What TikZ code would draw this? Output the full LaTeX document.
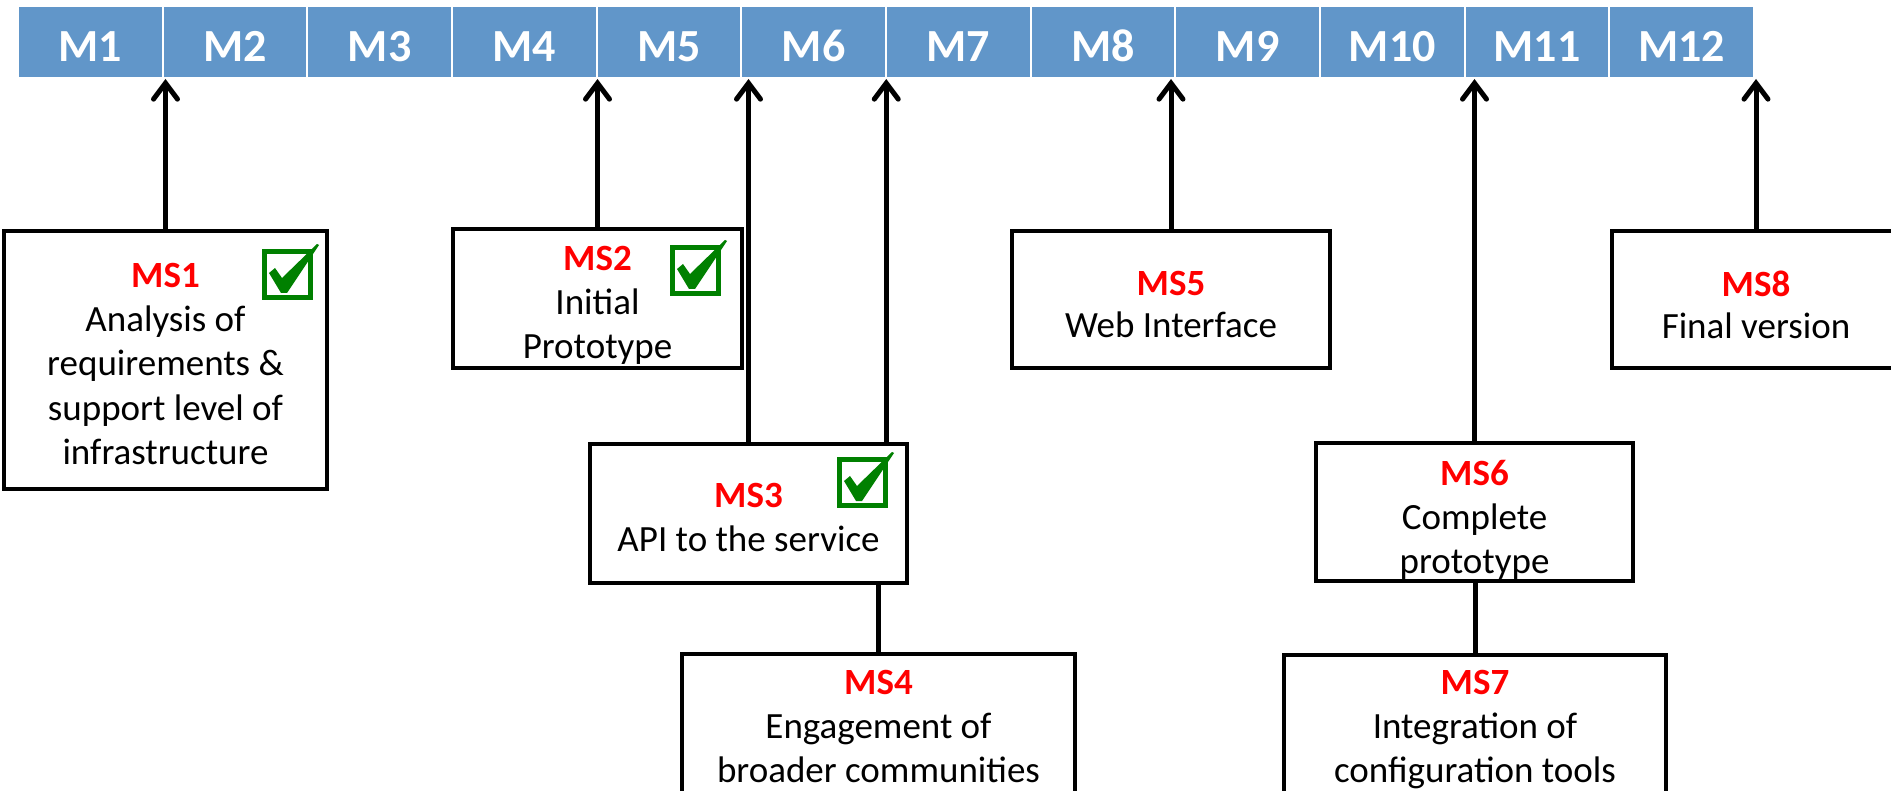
\documentclass[tikz,border=0pt]{standalone}
\usepackage{fontspec}
\setmainfont{Carlito}
\usetikzlibrary{arrows.meta}
\definecolor{barblue}{RGB}{97,150,201}
\definecolor{msred}{RGB}{255,0,0}
\definecolor{chkgreen}{RGB}{0,128,0}
\begin{document}
\begin{tikzpicture}[x=1pt,y=-1pt,
  cell/.style={draw=white, line width=2pt, fill=barblue, minimum width=144.67pt,
    minimum height=72pt, inner sep=0pt, text height=40pt, text depth=0pt,
    text=white, font=\fontsize{46}{50}\selectfont\bfseries},
  msbox/.style={draw=black, line width=4.5pt, inner sep=0pt, fill=white},
  mstext/.style={align=center, anchor=north, inner sep=0pt,
    font=\fontsize{37}{44.2}\selectfont},
  arr/.style={line width=5pt, -{Straight Barb[length=16pt,width=24pt,line cap=round]}},
  link/.style={line width=5pt},
  chk/.pic={
    \draw[chkgreen, line width=5pt] (2.5,2.5) rectangle (48.5,48.5);
    \fill[chkgreen] (7,24) -- (13,19) -- (20,29) -- (55,-5) -- (57,-4) -- (25,44) -- (19,44) -- cycle;
  }
]
\useasboundingbox (0,0) rectangle (1891,791);
\clip (0,0) rectangle (1891,791);

% timeline
\foreach \i in {1,...,12}
  \node[cell] (c\i) at ({18+144.67*(\i-0.5)},42) {M\i};

% milestone boxes
\node[msbox, minimum width=323pt, minimum height=258pt] (ms1) at (165.5,360) {};
\node[msbox, minimum width=289pt, minimum height=139pt] (ms2) at (597.5,298.5) {};
\node[msbox, minimum width=317pt, minimum height=139pt] (ms3) at (748.5,513.5) {};
\node[msbox, minimum width=393pt, minimum height=146pt] (ms4) at (878.5,727) {};
\node[msbox, minimum width=318pt, minimum height=137pt] (ms5) at (1171,299.5) {};
\node[msbox, minimum width=317pt, minimum height=138pt] (ms6) at (1474.5,512) {};
\node[msbox, minimum width=382pt, minimum height=145pt] (ms7) at (1475,727.5) {};
\node[msbox, minimum width=288pt, minimum height=137pt] (ms8) at (1756,299.5) {};

% texts
\node[mstext] (t1) at (165.5,263) {{\bfseries\color{msred}MS1}\\Analysis of\\requirements \&\\support level of\\infrastructure};
\node[mstext] (t2) at (597.5,246) {{\bfseries\color{msred}MS2}\\Initial\\Prototype};
\node[mstext] (t3) at (748.5,483) {{\bfseries\color{msred}MS3}\\API to the service};
\node[mstext] (t4) at (878.5,670) {{\bfseries\color{msred}MS4}\\Engagement of\\broader communities};
\node[mstext, font=\fontsize{37}{42}\selectfont] (t5) at (1171,271) {{\bfseries\color{msred}MS5}\\Web Interface};
\node[mstext] (t6) at (1474.5,460) {{\bfseries\color{msred}MS6}\\Complete\\prototype};
\node[mstext] (t7) at (1475,670) {{\bfseries\color{msred}MS7}\\Integration of\\configuration tools};
\node[mstext, font=\fontsize{37}{42}\selectfont] (t8) at (1756,271) {{\bfseries\color{msred}MS8}\\Final version};

% check boxes
\pic at (262,249) {chk};
\pic at (670,245) {chk};
\pic at (837,457) {chk};

% connectors
\coordinate (ms3r) at ([xshift=-23pt]ms3.north east);
\draw[arr] (ms1.north) -- (ms1.north |- c1.south);
\draw[arr] (ms2.north) -- (ms2.north |- c4.south);
\draw[arr] (ms3.north) -- (ms3.north |- c5.south);
\draw[arr] (ms3r) -- (ms3r |- c6.south);
\draw[link] (ms4.north) -- (ms4.north |- ms3.south);
\draw[arr] (ms5.north) -- (ms5.north |- c8.south);
\draw[arr] (ms6.north) -- (ms6.north |- c10.south);
\draw[link] (ms7.north) -- (ms7.north |- ms6.south);
\draw[arr] (ms8.north) -- (ms8.north |- c12.south);
\end{tikzpicture}
\end{document}
